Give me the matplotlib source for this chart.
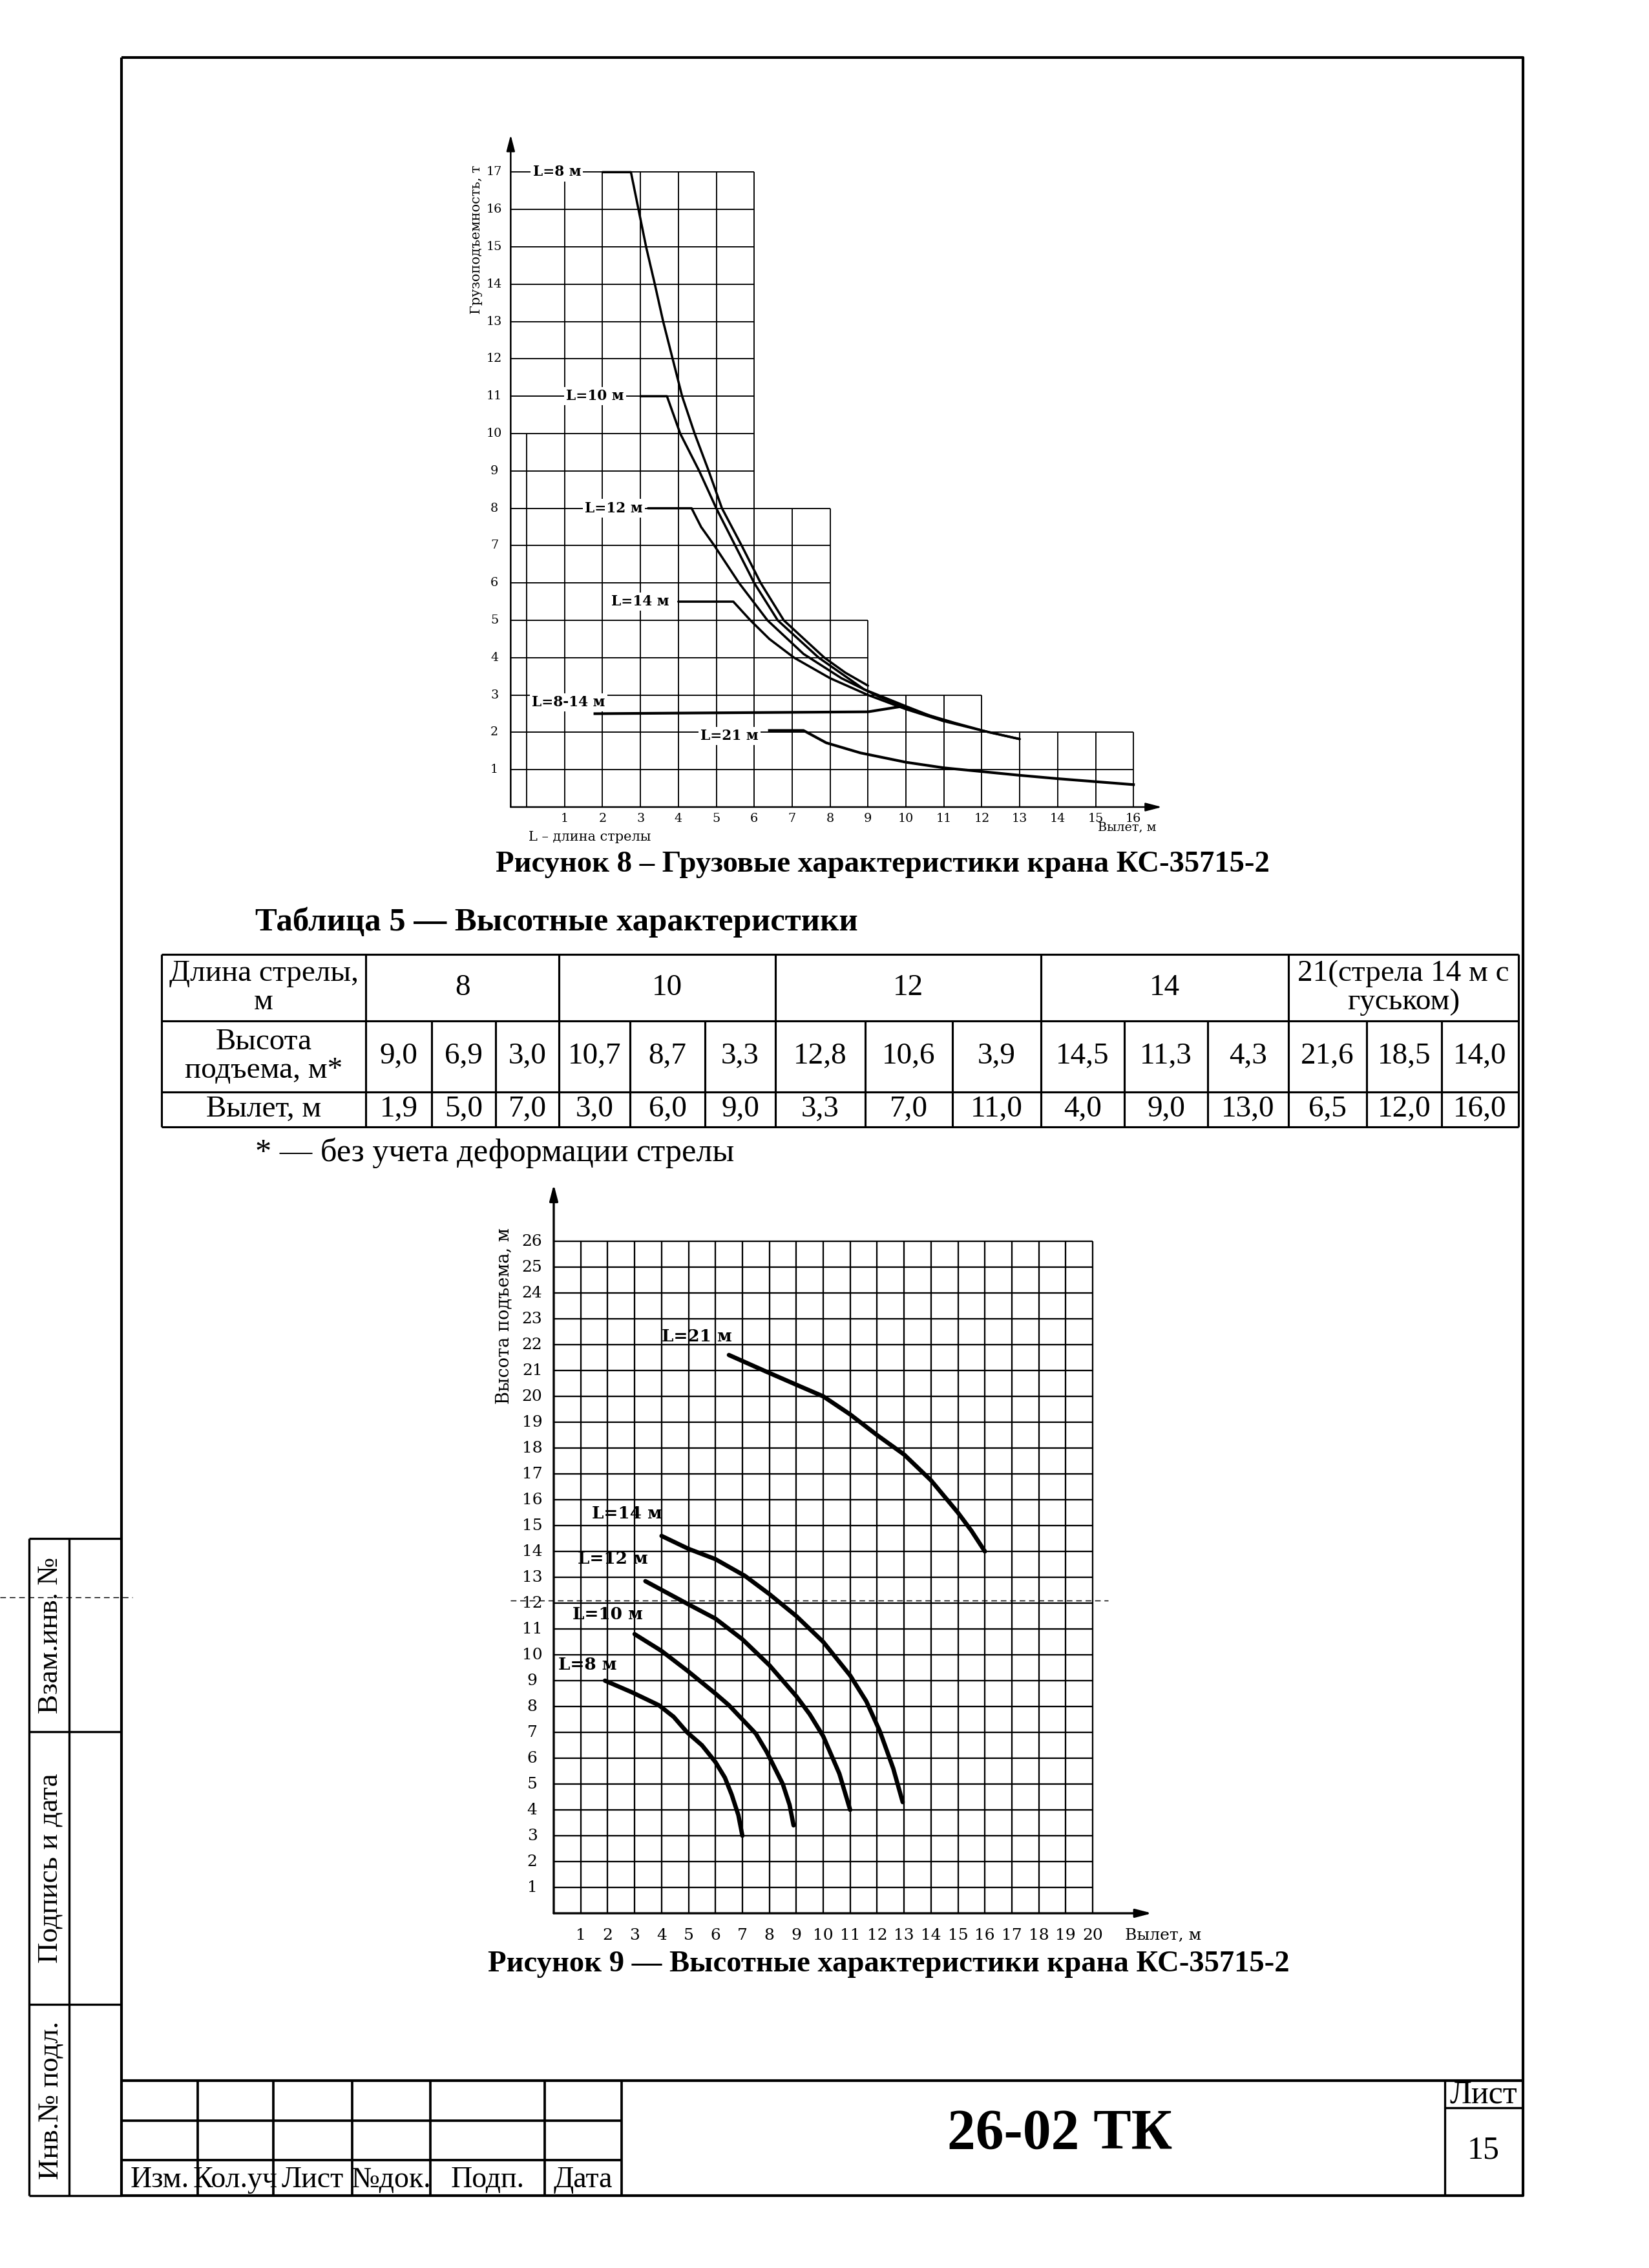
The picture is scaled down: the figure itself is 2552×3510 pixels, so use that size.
"""
Лист 15 техкарты 26-02 ТК: грузовые и высотные характеристики крана КС-35715-2
"""
import matplotlib
matplotlib.use('Agg')
import matplotlib.pyplot as plt

plt.rcParams['font.family'] = ['Liberation Serif', 'DejaVu Serif']
CHART_FONT = ['DejaVu Serif', 'Liberation Serif']

# ---- данные рисунка 8 (грузоподъемность, т от вылета, м) ----
cap_col_top = [17] * 6 + [8] * 2 + [5] + [3] * 3 + [2] * 4   # ступенчатая сетка
cap_l8_x = [2.0, 2.75, 2.95, 3.15, 3.38, 3.6, 3.85, 4.1, 4.43, 4.8, 5.15, 5.67, 6.17, 6.78, 7.85, 8.4, 9.0]
cap_l8_y = [17, 17, 16, 15, 14, 13, 12, 11, 10, 9, 8, 7, 6, 5, 4, 3.6, 3.25]
cap_l10_x = [3.0, 3.7, 4.05, 4.55, 5.0, 5.5, 6.0, 6.62, 7.7, 8.9, 10.0, 11.0]
cap_l10_y = [11, 11, 10, 9, 8, 7, 6, 5, 4, 3.15, 2.7, 2.3]
cap_l12_x = [3.2, 4.35, 4.6, 4.95, 5.6, 6.35, 7.3, 8.3, 9.3, 10.3, 11.3, 12.2, 13.0]
cap_l12_y = [8, 8, 7.5, 7, 6, 5, 4.1, 3.45, 2.95, 2.55, 2.25, 2.0, 1.82]
cap_l14_x = [4.0, 5.45, 5.9, 6.4, 7.05, 8.0, 9.0, 10.0, 11.0, 12.0, 13.0]
cap_l14_y = [5.5, 5.5, 5.0, 4.5, 4.0, 3.45, 3.0, 2.62, 2.3, 2.05, 1.82]
cap_l814_x = [1.8, 9.0, 9.8]
cap_l814_y = [2.5, 2.55, 2.68]
cap_l21_x = [6.4, 7.3, 7.9, 8.8, 10.0, 11.0, 12.0, 13.0, 14.0, 15.0, 16.0]
cap_l21_y = [2.05, 2.05, 1.72, 1.45, 1.2, 1.05, 0.95, 0.85, 0.76, 0.68, 0.6]

# ---- данные таблицы 5 ----
boom_lengths = ['8', '10', '12', '14', '21(стрела 14 м с\nгуськом)']
lift_heights = [9.0, 6.9, 3.0, 10.7, 8.7, 3.3, 12.8, 10.6, 3.9, 14.5, 11.3, 4.3, 21.6, 18.5, 14.0]
reaches = [1.9, 5.0, 7.0, 3.0, 6.0, 9.0, 3.3, 7.0, 11.0, 4.0, 9.0, 13.0, 6.5, 12.0, 16.0]

# ---- данные рисунка 9 (высота подъема, м от вылета, м) ----
h_l8_x = [1.9, 2.9, 3.9, 4.45, 4.95, 5.5, 6.0, 6.35, 6.6, 6.85, 7.0]
h_l8_y = [9.0, 8.55, 8.05, 7.6, 7.0, 6.5, 5.85, 5.25, 4.6, 3.8, 3.0]
h_l10_x = [3.0, 4.0, 5.0, 6.0, 6.5, 7.0, 7.5, 7.9, 8.5, 8.75, 8.9]
h_l10_y = [10.8, 10.15, 9.35, 8.5, 8.05, 7.5, 6.95, 6.25, 5.0, 4.2, 3.4]
h_l12_x = [3.4, 5.0, 6.0, 7.0, 8.0, 9.0, 9.5, 10.0, 10.6, 11.0]
h_l12_y = [12.85, 11.95, 11.4, 10.6, 9.6, 8.4, 7.7, 6.85, 5.4, 4.0]
h_l14_x = [4.0, 5.0, 6.0, 7.1, 8.0, 9.0, 10.0, 11.0, 11.6, 12.1, 12.6, 12.95]
h_l14_y = [14.6, 14.1, 13.7, 13.05, 12.35, 11.5, 10.5, 9.2, 8.2, 7.05, 5.6, 4.3]
h_l21_x = [6.5, 7.9, 9.0, 10.0, 11.0, 12.0, 13.0, 14.0, 15.0, 15.5, 16.0]
h_l21_y = [21.6, 20.95, 20.45, 20.0, 19.3, 18.5, 17.75, 16.75, 15.5, 14.8, 14.0]

W, H, DPI = 2552, 3510, 300
fig = plt.figure(figsize=(W / DPI, H / DPI), dpi=DPI)
fig.patch.set_facecolor('white')

# страница в пикселях (ось y вниз)
page = fig.add_axes([0, 0, 1, 1])
page.set_xlim(0, W)
page.set_ylim(H, 0)
page.axis('off')


def seg(xs, ys, lw=0.8, **kw):
    page.plot(xs, ys, color='black', lw=lw, solid_capstyle='butt', **kw)


def chart_axes(x0, y0, ux, uy, xlim, ylim):
    """оси, у которых точка (0,0) стоит в пикселе (x0, y0)"""
    left, right = x0 + xlim[0] * ux, x0 + xlim[1] * ux
    bottom, top = y0 - ylim[0] * uy, y0 - ylim[1] * uy
    ax = fig.add_axes([left / W, 1 - bottom / H, (right - left) / W, (bottom - top) / H])
    ax.set_xlim(*xlim)
    ax.set_ylim(*ylim)
    ax.axis('off')
    return ax


def arrow(ax, p0, p1, lw):
    ax.annotate('', xy=p1, xytext=p0,
                arrowprops=dict(arrowstyle='-|>,head_length=0.5,head_width=0.13',
                                color='black', lw=lw, shrinkA=0, shrinkB=0))


# ---- рамка листа ----
FL, FR, FT, FB = 188, 2357, 89, 3398
seg([FL, FR, FR, FL, FL], [FT, FT, FB, FB, FT], lw=1.0)

# боковая графа
strip = [2381, 2680, 3102, FB]
seg([45, 45], [strip[0], FB], lw=0.8)
seg([107, 107], [strip[0], FB], lw=0.8)
for y in strip:
    seg([45, FL], [y, y], lw=0.8)
for (ya, yb), txt in zip(zip(strip[:-1], strip[1:]),
                         ['Взам.инв. №', 'Подпись и дата', 'Инв.№ подл.']):
    page.text(78, (ya + yb) / 2, txt, rotation=90, ha='center', va='center', fontsize=10.8)

# линия сгиба скана
seg([0, 205], [2472, 2472], lw=0.35, linestyle=(0, (6, 4)))
seg([790, 1715], [2477, 2477], lw=0.35, linestyle=(0, (6, 4)))

# ---- основная надпись ----
tb_cols = [FL, 306, 423, 545, 666, 843, 962]
tb_rows = [3220, 3282, 3343, FB]
seg([FL, FR], [tb_rows[0], tb_rows[0]], lw=1.0)
for y in tb_rows[1:3]:
    seg([FL, tb_cols[-1]], [y, y], lw=0.9)
for x in tb_cols[1:]:
    seg([x, x], [tb_rows[0], FB], lw=0.9)
for xa, xb, txt in zip(tb_cols[:-1], tb_cols[1:], ['Изм.', 'Кол.уч', 'Лист', '№док.', 'Подп.', 'Дата']):
    page.text((xa + xb) / 2, (tb_rows[2] + FB) / 2 + 3, txt, ha='center', va='center', fontsize=11)
seg([2236, 2236], [tb_rows[0], FB], lw=0.8)
seg([2236, FR], [3262, 3262], lw=0.8)
page.text(2296, 3242, 'Лист', ha='center', va='center', fontsize=12)
page.text(2296, 3328, '15', ha='center', va='center', fontsize=12)
page.text(1640, 3303, '26-02 ТК', ha='center', va='center', fontsize=21, fontweight='bold')

# ---- рисунок 8 ----
ax8 = chart_axes(815, 1249, 58.7, 57.8, (-2.0, 18.0), (-1.5, 19.0))
AX8 = -0.42
grid_kw = dict(color='black', lw=0.45, solid_capstyle='butt')
n_cols = len(cap_col_top)
for level in range(1, max(cap_col_top) + 1):
    reach = 0
    while reach < n_cols and cap_col_top[reach] >= level:
        reach += 1
    ax8.plot([AX8, reach], [level, level], **grid_kw)
for k in range(1, n_cols + 1):
    top = max(cap_col_top[k - 1], cap_col_top[k] if k < n_cols else 0)
    ax8.plot([k, k], [0, top], **grid_kw)
ax8.plot([0, 0], [0, 10], **grid_kw)
arrow(ax8, (AX8, 0), (AX8, 18.0), 0.6)
arrow(ax8, (AX8, 0), (16.75, 0), 0.6)

curve_kw = dict(color='black', lw=0.85, solid_joinstyle='round', solid_capstyle='round')
for xs, ys in [(cap_l8_x, cap_l8_y), (cap_l10_x, cap_l10_y), (cap_l12_x, cap_l12_y),
               (cap_l14_x, cap_l14_y)]:
    ax8.plot(xs, ys, **curve_kw)
ax8.plot(cap_l814_x, cap_l814_y, color='black', lw=1.0)
ax8.plot(cap_l21_x, cap_l21_y, color='black', lw=1.0, solid_joinstyle='round')

lab8 = dict(family=CHART_FONT, fontsize=5.2, fontweight='bold', ha='center', va='center',
            bbox=dict(boxstyle='square,pad=0.15', fc='white', ec='none'))
for (x, y), txt in zip([(0.8, 17), (1.8, 11), (2.3, 8), (3.0, 5.5), (1.1, 2.8), (5.35, 1.9)],
                       ['L=8 м', 'L=10 м', 'L=12 м', 'L=14 м', 'L=8-14 м', 'L=21 м']):
    ax8.text(x, y, txt, **lab8)
for v in range(1, n_cols + 1):
    ax8.text(v, -0.32, str(v), family=CHART_FONT, fontsize=4.6, ha='center', va='center')
for v in range(1, max(cap_col_top) + 1):
    ax8.text(-0.85, v, str(v), family=CHART_FONT, fontsize=4.6, ha='center', va='center')
ax8.text(-1.32, 15.2, 'Грузоподъемность, т', family=CHART_FONT, fontsize=5.0,
         rotation=90, ha='center', va='center')
ax8.text(16.6, -0.55, 'Вылет, м', family=CHART_FONT, fontsize=4.6, ha='right', va='center')
ax8.text(0.05, -0.8, 'L – длина стрелы', family=CHART_FONT, fontsize=5.0, ha='left', va='center')

page.text(1366, 1338, 'Рисунок 8 – Грузовые характеристики крана КС-35715-2',
          ha='center', va='center', fontsize=11.2, fontweight='bold')

# ---- таблица 5 ----
page.text(395, 1427, 'Таблица 5 — Высотные характеристики', ha='left', va='center',
          fontsize=12.2, fontweight='bold')
t_cols = [250, 566, 668, 767, 865, 975, 1091, 1200, 1339, 1474, 1611, 1740, 1869, 1994, 2115, 2231, 2350]
t_rows = [1477, 1580, 1690, 1744]
for y in t_rows:
    seg([t_cols[0], t_cols[-1]], [y, y], lw=0.75)
for i, x in enumerate(t_cols):
    y_start = t_rows[0] if (i <= 1 or (i - 1) % 3 == 0) else t_rows[1]
    seg([x, x], [y_start, t_rows[-1]], lw=0.75)
cell = dict(ha='center', va='center', fontsize=11.3, linespacing=1.05)
page.text((t_cols[0] + t_cols[1]) / 2, (t_rows[0] + t_rows[1]) / 2, 'Длина стрелы,\nм', **cell)
page.text((t_cols[0] + t_cols[1]) / 2, (t_rows[1] + t_rows[2]) / 2, 'Высота\nподъема, м*', **cell)
page.text((t_cols[0] + t_cols[1]) / 2, (t_rows[2] + t_rows[3]) / 2, 'Вылет, м', **cell)
for g, txt in enumerate(boom_lengths):
    xa, xb = t_cols[1 + 3 * g], t_cols[4 + 3 * g]
    page.text((xa + xb) / 2, (t_rows[0] + t_rows[1]) / 2, txt, **cell)
for j, (hv, rv) in enumerate(zip(lift_heights, reaches)):
    xc = (t_cols[1 + j] + t_cols[2 + j]) / 2
    page.text(xc, (t_rows[1] + t_rows[2]) / 2, f'{hv:.1f}'.replace('.', ','), **cell)
    page.text(xc, (t_rows[2] + t_rows[3]) / 2, f'{rv:.1f}'.replace('.', ','), **cell)
page.text(395, 1784, '* — без учета деформации стрелы', ha='left', va='center', fontsize=12.1)

# ---- рисунок 9 ----
ax9 = chart_axes(857, 2961, 41.7, 40.0, (-2.5, 24.5), (-2.0, 29.0))
NX, NY = 20, 26
g9 = dict(color='black', lw=0.55, solid_capstyle='butt')
for k in range(1, NX + 1):
    ax9.plot([k, k], [0, NY], **g9)
for k in range(1, NY + 1):
    ax9.plot([0, NX], [k, k], **g9)
arrow(ax9, (0, 0), (0, 28.2), 0.8)
arrow(ax9, (0, 0), (22.2, 0), 0.8)
h_kw = dict(color='black', lw=1.6, solid_capstyle='round', solid_joinstyle='round')
for xs, ys in [(h_l8_x, h_l8_y), (h_l10_x, h_l10_y), (h_l12_x, h_l12_y),
               (h_l14_x, h_l14_y), (h_l21_x, h_l21_y)]:
    ax9.plot(xs, ys, **h_kw)
lab9 = dict(family=CHART_FONT, fontsize=6.3, fontweight='bold', ha='center', va='center')
for (x, y), txt in zip([(1.25, 9.6), (2.0, 11.55), (2.2, 13.7), (2.72, 15.45), (5.3, 22.3)],
                       ['L=8 м', 'L=10 м', 'L=12 м', 'L=14 м', 'L=21 м']):
    ax9.text(x, y, txt, **lab9)
for v in range(1, NX + 1):
    ax9.text(v, -0.85, str(v), family=CHART_FONT, fontsize=6.0, ha='center', va='center')
for v in range(1, NY + 1):
    ax9.text(-0.8, v, str(v), family=CHART_FONT, fontsize=6.0, ha='center', va='center')
ax9.text(21.2, -0.85, 'Вылет, м', family=CHART_FONT, fontsize=6.0, ha='left', va='center')
ax9.text(-1.85, 23.1, 'Высота подъема, м', family=CHART_FONT, fontsize=6.5,
         rotation=90, ha='center', va='center')

page.text(1375, 3040, 'Рисунок 9 — Высотные характеристики крана КС-35715-2',
          ha='center', va='center', fontsize=11.2, fontweight='bold')

fig.savefig('out.png', dpi=DPI, facecolor='white')
